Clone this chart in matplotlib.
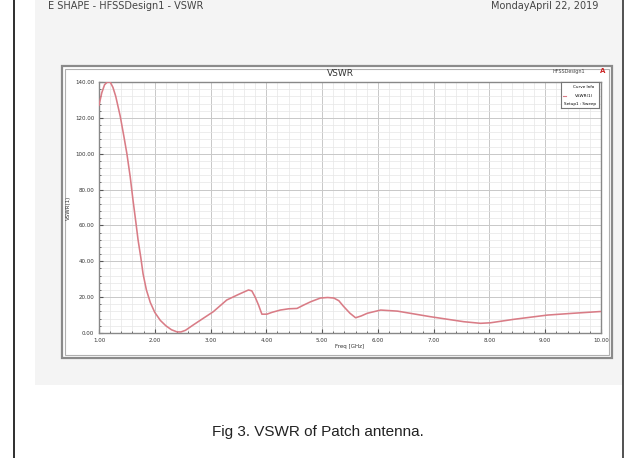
# plot.py
# HFSS style VSWR plot of the E-shape patch antenna (Fig 3 screenshot)

import matplotlib.pyplot as plt
from matplotlib.patches import Rectangle
from matplotlib.ticker import MultipleLocator, FormatStrFormatter

# VSWR curve
freq = [1.00, 1.05, 1.10, 1.15, 1.20, 1.25, 1.30, 1.38, 1.45, 1.50, 1.56,
        1.61, 1.66, 1.70, 1.75, 1.79, 1.85, 1.92, 2.00, 2.10, 2.20, 2.30,
        2.40, 2.47, 2.55, 2.69, 2.85, 3.05, 3.29, 3.50, 3.68, 3.74, 3.80,
        3.86, 3.92, 4.01, 4.10, 4.25, 4.40, 4.55, 4.67, 4.80, 4.97, 5.10,
        5.21, 5.30, 5.38, 5.50, 5.60, 5.70, 5.81, 6.05, 6.35, 6.94, 7.54,
        7.84, 8.02, 8.43, 9.04, 9.50, 10.00]
vswr = [127, 134, 138.5, 140, 140, 137, 132, 121, 109, 100, 87,
        74, 62, 52, 42, 33, 24, 17, 11.5, 7, 4, 1.8,
        0.6, 0.6, 1.5, 4.5, 7.8, 11.9, 18.4, 21.5, 24, 23.5, 20,
        15.6, 10.5, 10.5, 11.5, 12.8, 13.5, 13.7, 15.6, 17.5, 19.5, 19.8,
        19.5, 18, 15, 11, 8.5, 9.5, 11, 12.8, 12.2, 9.1, 6.3,
        5.4, 5.7, 7.6, 10, 11, 12]

xticks = [1, 2, 3, 4, 5, 6, 7, 8, 9, 10]
yticks = [0, 20, 40, 60, 80, 100, 120, 140]

W, H = 634, 458
fig = plt.figure(figsize=(W / 100, H / 100), dpi=100)
fig.patch.set_facecolor("white")

def px(x0, y0, x1, y1):
    """pixel box (top-left origin) -> figure fraction rect"""
    return [x0 / W, 1 - y1 / H, (x1 - x0) / W, (y1 - y0) / H]

def frect(x0, y0, x1, y1, **kw):
    r = px(x0, y0, x1, y1)
    fig.patches.append(Rectangle((r[0], r[1]), r[2], r[3],
                                 transform=fig.transFigure, **kw))

# page background + side borders
frect(35, 0, 622, 385, facecolor="#f4f4f4", edgecolor="none", zorder=0)
frect(13, 0, 15, 458, facecolor="#333333", edgecolor="none", zorder=1)
frect(622, 0, 624, 458, facecolor="#555555", edgecolor="none", zorder=1)

# report frame
frect(62, 66, 612, 358, facecolor="white", edgecolor="#8a8a8a",
      linewidth=1.6, zorder=1)
frect(65, 69, 609, 355, facecolor="none", edgecolor="#b0b0b0",
      linewidth=0.8, zorder=1)

# header
fig.text(48 / W, 1 - 6 / H, "E SHAPE - HFSSDesign1 - VSWR", fontsize=7,
         color="#444444", va="center", ha="left")
fig.text(598 / W, 1 - 6 / H, "MondayApril 22, 2019", fontsize=7,
         color="#444444", va="center", ha="right")

fig.text(340 / W, 1 - 74 / H, "VSWR", fontsize=6.5, color="#333333",
         ha="center", va="center")
fig.text(585 / W, 1 - 71 / H, "HFSSDesign1", fontsize=3.5, color="#444444",
         ha="right", va="center")
fig.text(603 / W, 1 - 71 / H, "A", fontsize=5, color="#cc2222",
         ha="center", va="center", fontweight="bold")

ax = fig.add_axes(px(99, 82, 601, 333))
ax.set_zorder(5)
ax.plot(freq, vswr, color="#d97c86", linewidth=1.15, zorder=3)

ax.set_xlim(1, 10)
ax.set_ylim(0, 140)
ax.set_xticks(xticks)
ax.set_yticks(yticks)
ax.xaxis.set_minor_locator(MultipleLocator(0.2))
ax.yaxis.set_minor_locator(MultipleLocator(4))
ax.xaxis.set_major_formatter(FormatStrFormatter("%.2f"))
ax.yaxis.set_major_formatter(FormatStrFormatter("%.2f"))
ax.grid(True, which="major", color="#c8c8c8", linewidth=0.7)
ax.grid(True, which="minor", color="#e6e6e6", linewidth=0.5)
ax.tick_params(which="both", direction="in", labelsize=4, colors="#555555",
               labelcolor="#333333")
ax.tick_params(which="major", length=3)
ax.tick_params(which="minor", length=1.5)
for s in ax.spines.values():
    s.set_color("#888888")
    s.set_linewidth(1.0)
ax.set_xlabel("Freq [GHz]", fontsize=4, labelpad=1, color="#333333")
ax.set_ylabel("VSWR(1)", fontsize=4, labelpad=3, color="#333333")

# curve info box
leg = fig.add_axes(px(561, 82, 599, 108))
leg.set_zorder(6)
leg.set_xticks([])
leg.set_yticks([])
leg.set_facecolor("white")
for s in leg.spines.values():
    s.set_color("#777777")
    s.set_linewidth(0.8)
leg.text(0.6, 0.8, "Curve Info", fontsize=3, ha="center", va="center",
         transform=leg.transAxes)
leg.plot([0.04, 0.12], [0.47, 0.47], color="#d97c86", linewidth=0.8,
         transform=leg.transAxes)
leg.text(0.6, 0.47, "VSWR(1)", fontsize=3, ha="center", va="center",
         transform=leg.transAxes)
leg.text(0.5, 0.17, "Setup1 : Sweep", fontsize=3, ha="center", va="center",
         transform=leg.transAxes)

# caption
fig.text(318 / W, 1 - 432 / H, "Fig 3. VSWR of Patch antenna.", fontsize=11,
         color="#222222", ha="center", va="center",
         family="Liberation Sans")

fig.savefig("out.png", dpi=100)
